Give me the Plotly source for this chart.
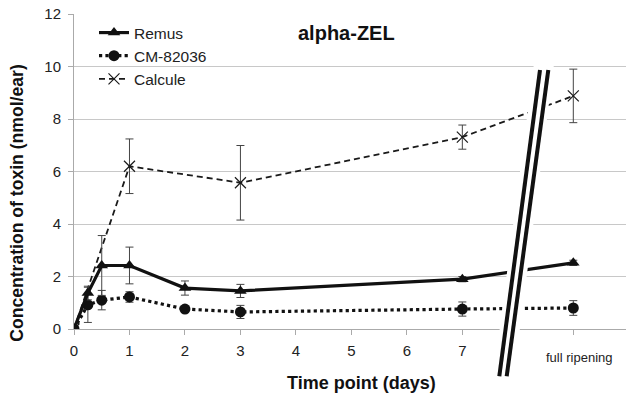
import plotly.graph_objects as go

# ---- data ----
time_points = [0, 0.25, 0.5, 1, 2, 3, 7, 9]

remus = [0.0, 1.37, 2.42, 2.42, 1.56, 1.45, 1.90, 2.52]
remus_err = [0.0, 0.26, 1.14, 0.70, 0.27, 0.25, 0.10, 0.10]

cm82036 = [0.0, 0.92, 1.10, 1.22, 0.76, 0.65, 0.76, 0.80]
cm82036_err = [0.0, 0.67, 0.37, 0.20, 0.08, 0.25, 0.27, 0.28]

calcule_x = [0, 1, 3, 7, 9]
calcule = [0.0, 6.20, 5.57, 7.31, 8.88]
calcule_err = [0.0, 1.04, 1.42, 0.46, 1.02]

tick_vals = [0, 1, 2, 3, 4, 5, 6, 7, 8, 9]
tick_text = ["0", "1", "2", "3", "4", "5", "6", "7", "", ""]

FONT = "Arial, 'Liberation Sans', sans-serif"

fig = go.Figure()

fig.add_trace(go.Scatter(
    x=calcule_x, y=calcule, name="Calcule", mode="lines+markers",
    line=dict(color="#1a1a1a", width=1.8, dash="6px,4px"),
    marker=dict(symbol="x-thin-open", size=11, color="#1a1a1a",
                line=dict(color="#1a1a1a", width=1.2)),
    error_y=dict(type="data", array=calcule_err, color="#444", thickness=1, width=4),
))
fig.add_trace(go.Scatter(
    x=time_points, y=cm82036, name="CM-82036", mode="lines+markers",
    line=dict(color="#111", width=3.2, dash="dot"),
    marker=dict(symbol="circle", size=11, color="#111"),
    error_y=dict(type="data", array=cm82036_err, color="#444", thickness=1, width=4),
))
fig.add_trace(go.Scatter(
    x=time_points, y=remus, name="Remus", mode="lines+markers",
    line=dict(color="#111", width=3.2),
    marker=dict(symbol="triangle-up", size=11, color="#111"),
    error_y=dict(type="data", array=remus_err, color="#444", thickness=1, width=4),
))

# axis break (decoration) in paper coordinates
def px_to_paper(px, py):
    return (px - 74) / 552.0, (329.3 - py) / 315.3

wt = px_to_paper(544.2, 62)
wb = px_to_paper(503.0, 382)
l1t = px_to_paper(540.0, 70)
l1b = px_to_paper(499.3, 376.7)
l2t = px_to_paper(548.3, 70)
l2b = px_to_paper(506.7, 376.7)

shapes = [
    dict(type="line", xref="paper", yref="paper", x0=wt[0], y0=wt[1], x1=wb[0], y1=wb[1],
         line=dict(color="white", width=20), layer="above"),
    dict(type="line", xref="paper", yref="paper", x0=l1t[0], y0=l1t[1], x1=l1b[0], y1=l1b[1],
         line=dict(color="#111", width=4), layer="above"),
    dict(type="line", xref="paper", yref="paper", x0=l2t[0], y0=l2t[1], x1=l2b[0], y1=l2b[1],
         line=dict(color="#111", width=4), layer="above"),
]

annotations = [
    dict(text="<b>alpha-ZEL</b>", xref="paper", yref="paper",
         x=(346 - 74) / 552, y=(329.3 - 33) / 315.3, showarrow=False,
         xanchor="center", yanchor="middle",
         font=dict(family=FONT, size=20, color="#111")),
    dict(text="<b>Time point (days)</b>", xref="paper", yref="paper",
         x=(361.7 - 74) / 552, y=(329.3 - 383) / 315.3, showarrow=False,
         xanchor="center", yanchor="middle",
         font=dict(family=FONT, size=18, color="#111")),
    dict(text="<b>Concentration of toxin (nmol/ear)</b>", xref="paper", yref="paper",
         x=(17 - 74) / 552, y=(329.3 - 203) / 315.3, showarrow=False, textangle=-90,
         xanchor="center", yanchor="middle",
         font=dict(family=FONT, size=17.6, color="#111")),
    dict(text="full ripening", xref="x", yref="paper",
         x=9.12, y=(329.3 - 358) / 315.3, showarrow=False, bgcolor="white", borderpad=1,
         xanchor="center", yanchor="middle",
         font=dict(family=FONT, size=13, color="#222")),
]

fig.update_layout(
    width=626, height=398,
    margin=dict(l=74, r=0, t=14, b=69),
    paper_bgcolor="white", plot_bgcolor="white",
    font=dict(family=FONT, size=15, color="#222"),
    showlegend=True,
    legend=dict(x=(94 - 74) / 552, y=(329.3 - 16) / 315.3, xanchor="left", yanchor="top",
                traceorder="reversed", bgcolor="rgba(0,0,0,0)",
                font=dict(family=FONT, size=15.5, color="#222"), itemwidth=30),
    xaxis=dict(range=[0, 9.95], tickmode="array", tickvals=tick_vals, ticktext=tick_text,
               showgrid=False, zeroline=False, showline=True, linecolor="#aaa", linewidth=1,
               ticks="outside", ticklen=5, tickcolor="#aaa", ticklabelstandoff=3,
               tickfont=dict(family=FONT, size=15, color="#222")),
    yaxis=dict(range=[0, 12], dtick=2, showgrid=True, gridcolor="#c8c8c8", gridwidth=1,
               zeroline=False, showline=True, linecolor="#aaa", linewidth=1,
               ticks="outside", ticklen=5, tickcolor="#aaa", ticklabelstandoff=4,
               tickfont=dict(family=FONT, size=15, color="#222")),
    shapes=shapes, annotations=annotations,
)

fig.write_html("out.html")
